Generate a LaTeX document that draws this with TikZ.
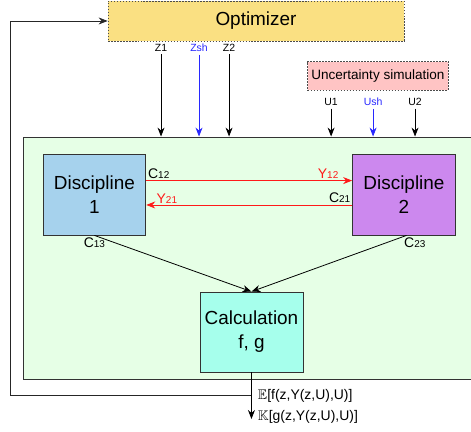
\documentclass[tikz,border=0pt]{standalone}
\usepackage{amssymb}
\usepackage{fontspec}
\setmainfont{Liberation Sans}
\usepackage{tikz}
\usetikzlibrary{arrows.meta,positioning,calc}

\definecolor{optfill}{RGB}{250,224,130}
\definecolor{uncfill}{RGB}{255,196,196}
\definecolor{sysfill}{RGB}{230,255,230}
\definecolor{dafill}{RGB}{166,210,237}
\definecolor{dbfill}{RGB}{204,136,238}
\definecolor{calcfill}{RGB}{166,255,236}
\definecolor{shblue}{RGB}{40,40,255}
\definecolor{cpred}{RGB}{255,25,25}
\newcommand{\lo}[1]{{\fontsize{10}{11}\selectfont #1}}

\begin{document}
\begin{tikzpicture}[>={Stealth[length=9pt,width=7pt]},line width=0.8pt,
   blk/.style={draw=black!80,minimum width=3.63cm,minimum height=2.86cm,align=center,
     font=\fontsize{19}{24}\selectfont},
   dbox/.style={draw=black!70,dash pattern=on 1.6pt off 1.4pt},
   lbl/.style={font=\fontsize{10.5}{12}\selectfont,inner sep=2.5pt},
   cl/.style={font=\fontsize{14}{16}\selectfont,inner sep=1.5pt}]
  \useasboundingbox (0,0) rectangle (16.614,-15.238);
  \node[dbox,fill=optfill,minimum width=10.44cm,minimum height=1.41cm,
     font=\fontsize{19}{22}\selectfont] (opt) at (9.03,-0.74) {Optimizer};
  \node[dbox,fill=uncfill,minimum width=4.94cm,minimum height=1.02cm,
     font=\fontsize{13.6}{16}\selectfont] (unc) at (13.33,-2.68) {Uncertainty simulation};
  \node[draw=black!80,fill=sysfill,minimum width=16.19cm,minimum height=8.54cm] (sys) at (8.905,-9.10) {};
  \node[lbl] (z1) at (5.68,-1.69) {Z1};
  \node[lbl,text=shblue] (zsh) at (7.02,-1.69) {Zsh};
  \node[lbl] (z2) at (8.08,-1.69) {Z2};
  \node[lbl] (u1) at (11.68,-3.60) {U1};
  \node[lbl,text=shblue] (ush) at (13.16,-3.60) {Ush};
  \node[lbl] (u2) at (14.64,-3.60) {U2};
  \draw[->] (z1) -- (z1 |- sys.north); \draw[->,shblue] (zsh) -- (zsh |- sys.north);
  \draw[->] (z2) -- (z2 |- sys.north);
  \draw[->] (u1) -- (u1 |- sys.north); \draw[->,shblue] (ush) -- (ush |- sys.north);
  \draw[->] (u2) -- (u2 |- sys.north);
  \node[blk,fill=dafill] (d1) at (3.33,-6.86) {Discipline\\1};
  \node[blk,fill=dbfill] (d2) at (14.25,-6.86) {Discipline\\2};
  \node[blk,fill=calcfill,minimum height=2.82cm] (calc) at (8.87,-11.71) {Calculation\\f, g};
  \draw[->,cpred] ([yshift=0.49cm]d1.east) -- ([yshift=0.49cm]d2.west)
     node[cl,pos=0,above right,text=black]{C\lo{12}}
     node[cl,pos=1,above left,xshift=-0.42cm]{Y\lo{12}};
  \draw[->,cpred] ([yshift=-0.37cm]d2.west) -- ([yshift=-0.37cm]d1.east)
     node[cl,pos=0,above left,text=black]{C\lo{21}}
     node[cl,pos=1,above right,xshift=0.3cm]{Y\lo{21}};
  \draw[->] (d1.south) -- (calc.north) node[cl,pos=0,below]{C\lo{13}};
  \draw[->] ([xshift=0.09cm]d2.south) -- (calc.north) node[cl,pos=0,below right,xshift=-0.15cm]{C\lo{23}};
  \coordinate (res) at (calc.south |- 0,-14.78);
  \coordinate (fb) at (calc.south |- 0,-13.93);
  \draw[->] (calc.south) -- (res);
  \draw[->,black!85] (fb) -- (0.353,-13.93) |- (opt.west);
  \node[font=\fontsize{14}{17}\selectfont,anchor=west,inner sep=1pt] (ef) at (9.05,-13.98) {$\mathbb{E}$[f(z,Y(z,U),U)]};
  \node[font=\fontsize{14}{17}\selectfont,anchor=west,inner sep=1pt] (kg) at (9.05,-14.72) {$\mathbb{K}$[g(z,Y(z,U),U)]};
\end{tikzpicture}
\end{document}
